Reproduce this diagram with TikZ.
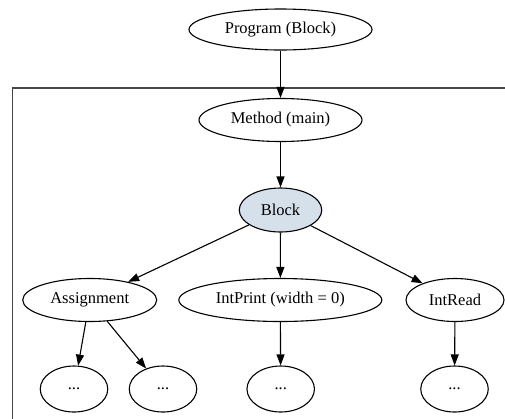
\documentclass[tikz,border=0pt]{standalone}
\usepackage{fontspec}
\setmainfont{Liberation Serif}
\usetikzlibrary{shapes.geometric,arrows.meta}

\definecolor{blockfill}{RGB}{214,224,234}
\definecolor{clusterline}{RGB}{70,70,70}

\tikzset{
  treenode/.style={ellipse, draw=black, line width=1.1pt, inner sep=0pt,
    font=\fontsize{16.5}{18}\selectfont},
  leafnode/.style={treenode, minimum width=67.5pt, minimum height=46pt},
  edge/.style={draw=black, line width=1.1pt,
    -{Triangle[length=11pt,width=8pt]}},
  cluster/.style={draw=clusterline, line width=1.3pt},
}

\begin{document}
\begin{tikzpicture}[x=1pt,y=-1pt]
  \clip (0,0) rectangle (505,418);

  % enclosing cluster of the method body
  \draw[cluster] (12.7,430) -- (12.7,88) -- (520,88);

  % nodes
  \node[treenode, minimum width=183pt, minimum height=41pt] (prog) at (280.5,29.5) {Program (Block)};
  \node[treenode, minimum width=163pt, minimum height=43pt] (method) at (280.5,120) {Method (main)};
  \node[treenode, fill=blockfill, minimum width=82.5pt, minimum height=44pt] (block) at (280.5,210) {Block};
  \node[treenode, minimum width=134pt, minimum height=43pt] (assign) at (89.7,300) {Assignment};
  \node[treenode, minimum width=203pt, minimum height=43pt] (print) at (280.3,300) {IntPrint (width = 0)};
  \node[treenode, minimum width=98pt, minimum height=43pt] (read) at (455,300) {IntRead};
  \node[leafnode] (d1) at (74,389) {...};
  \node[leafnode] (d2) at (163,389) {...};
  \node[leafnode] (d3) at (280.7,389) {...};
  \node[leafnode] (d4) at (454.5,389) {...};

  % edges
  \draw[edge] (prog) -- (method);
  \draw[edge] (method) -- (block);
  \draw[edge] (block) -- (assign);
  \draw[edge] (block) -- (print);
  \draw[edge] (block) -- (read);
  \draw[edge] (assign) -- (d1);
  \draw[edge] (assign) -- (d2);
  \draw[edge] (print) -- (d3);
  \draw[edge] (read) -- (d4);
\end{tikzpicture}
\end{document}
